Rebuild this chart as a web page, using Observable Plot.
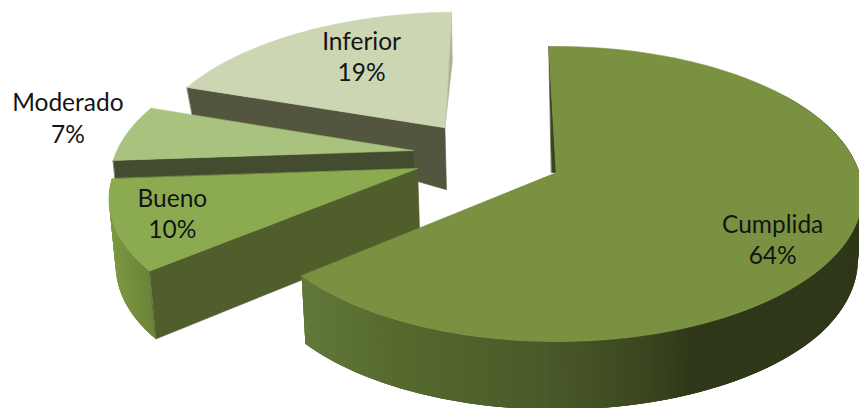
<!DOCTYPE html>
<html>
<head>
<meta charset="utf-8">
<script src="https://cdn.jsdelivr.net/npm/d3@7"></script>
<script src="https://cdn.jsdelivr.net/npm/@observablehq/plot@0.6"></script>
<style>html,body{margin:0;padding:0;background:#fff;overflow:hidden}svg{display:block}</style>
</head>
<body>
<div id="chart"></div>
<script>
(() => {
// data
const categories = ["Cumplida", "Bueno", "Moderado", "Inferior"];
const shares = [64.2, 10.1, 6.3, 19.4];
const percentLabels = ["64%", "10%", "7%", "19%"];

// colours
const topColors = ["#7a9142", "#8cab50", "#a9c27d", "#ccd6b2"];
const innerColors = ["#3a4520", "#4f5e2b", "#444c30", "#53553f"];

// 3-D pie geometry: pie-plane units, radius 1
const rotation = -1.5, tilt = 0.146;
const planeX = 303, planeY = 144.4, originX = 552, originY = 172;
const apexU = [0.012, -0.447, -0.47, -0.372];
const apexV = [0, -0.0275, -0.155, -0.325];
const labelAngle = [123.4, 248, 281, 329.4];
const labelRadius = [0.8, 0.816, 1.244, 0.67];
const depth = d3.scaleLinear().domain([-1.3, -0.667, -0.332, 0.6, 1]).range([0, 27, 62, 68, 68]).clamp(true);
const rad = d => d * Math.PI / 180;

const total = d3.sum(shares);
let acc = rotation;
const slices = categories.map((name, i) => {
  const a0 = acc; acc += shares[i] / total * 360;
  return {i, name, a0, a1: acc, u0: apexU[i], v0: apexV[i]};
});

function proj(u, v) { const s = 1 / (1 - tilt * v); return [u * s, v * s, v]; }
function rim(sl, a) { return proj(sl.u0 + Math.sin(rad(a)), sl.v0 - Math.cos(rad(a))); }
function apex(sl) { return proj(sl.u0, sl.v0); }
function drop(p) {
  const px = originX + planeX * p[0];
  return [p[0] + (originX - px) * 0.015 / planeX, p[1] + depth(p[2]) / planeY, p[2]];
}
const angles = (a, b, step) => { const n = Math.max(2, Math.ceil(Math.abs(b - a) / step)); return d3.range(n + 1).map(k => a + (b - a) * k / n); };

const polys = [];
function poly(pts, fill, sw = 0.6) { const id = polys.length ? polys[polys.length - 1].id + 1 : 0; pts.forEach(p => polys.push({id, x: p[0], y: p[1], fill, sw})); }

const gradCumplida = d3.scaleLinear().domain([302, 400, 550, 650, 700, 860]).range(["#62793a", "#566a2f", "#4b5a29", "#3b4720", "#2f3819", "#2f3819"]).clamp(true);
const gradBueno = d3.scaleLinear().domain([105, 155]).range(["#7f9b45", "#6b8239"]).clamp(true);

// outer wall: overlapping strips, so no seams show between neighbours
function outer(sl, a0, a1, grad) {
  const as = angles(a0, a1, 0.5);
  for (let k = as.length - 2; k >= 0; k--) {
    const p = rim(sl, as[k]), q = rim(sl, as[Math.min(k + 3, as.length - 1)]);
    const px = originX + planeX * p[0];
    poly([p, q, drop(q), drop(p)], grad(px), 0);
  }
}
function topFace(sl) {
  poly([apex(sl), ...angles(sl.a0, sl.a1, 1).map(a => rim(sl, a))], topColors[sl.i]);
}
const [cumplida, bueno, moderado, inferior] = slices;

// back to front
{ // Inferior
  const c = rim(inferior, inferior.a0), ap = apex(inferior), e = rim(inferior, inferior.a1);
  poly([c, ap, drop(ap), drop(c)], innerColors[3]);
  const mid = [(e[0] + ap[0]) / 2 + 0.012 + (e[0] - ap[0]) * 0.08, (e[1] + ap[1]) / 2 - 0.06];
  poly([e, mid, ap], "#a7b691");
  topFace(inferior);
}
{ // Moderado
  const c = rim(moderado, moderado.a0), ap = apex(moderado);
  poly([c, ap, drop(ap), drop(c)], innerColors[2]);
  topFace(moderado);
}
{ // Bueno
  const c = rim(bueno, bueno.a0), ap = apex(bueno);
  outer(bueno, bueno.a0, bueno.a1, gradBueno);
  poly([c, ap, drop(ap), drop(c)], innerColors[1]);
  topFace(bueno);
}
{ // Cumplida
  const c = rim(cumplida, cumplida.a0), ap = apex(cumplida);
  poly([c, ap, [ap[0] - 0.015, ap[1]]], innerColors[0]);
  outer(cumplida, 55, cumplida.a1, gradCumplida);
  topFace(cumplida);
}

const labels = slices.map(sl => {
  const a = labelAngle[sl.i], r = labelRadius[sl.i];
  const p = proj(sl.u0 + r * Math.sin(rad(a)), sl.v0 - r * Math.cos(rad(a)));
  return {x: p[0], y: p[1], text: sl.name + "\n" + percentLabels[sl.i]};
});

const chart = Plot.plot({
  width: 859, height: 408, margin: 0,
  style: {background: "#fff", overflow: "hidden"},
  x: {axis: null, domain: [-originX / planeX, (859 - originX) / planeX], range: [0, 859]},
  y: {axis: null, domain: [-originY / planeY, (408 - originY) / planeY], range: [0, 408]},
  color: {type: "identity"},
  marks: [
    Plot.line(polys, {x: "x", y: "y", z: "id", fill: "fill", stroke: "fill", strokeWidth: "sw", curve: "linear-closed"}),
    Plot.text(labels, {x: "x", y: "y", text: "text", dy: -2, fontFamily: "Lato", fontSize: 24.5, lineHeight: 1.29, fill: "#141414", textAnchor: "middle"})
  ]
});
document.getElementById("chart").appendChild(chart);
})();
</script>
</body>
</html>
